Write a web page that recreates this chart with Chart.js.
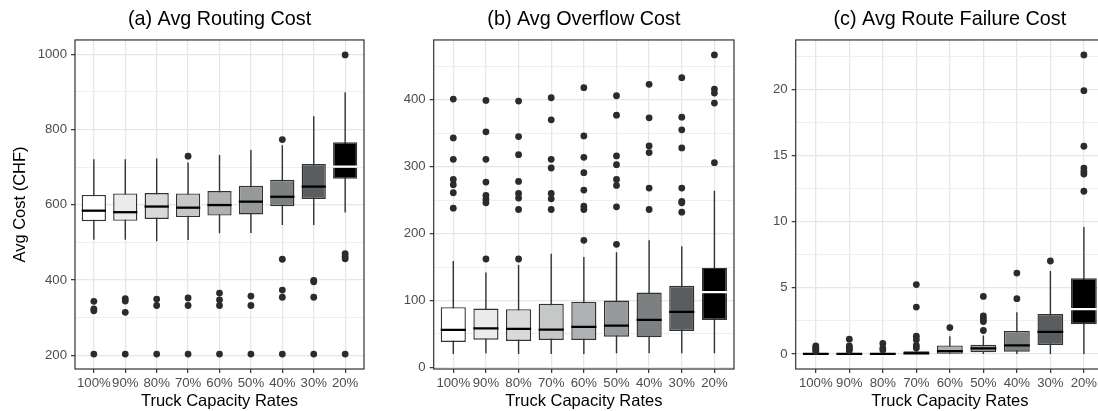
<!DOCTYPE html>
<html lang="en">
<head>
<meta charset="UTF-8" />
<title>Truck capacity boxplots</title>
<script src="https://cdn.jsdelivr.net/npm/chart.js"></script>
<style>
  body { margin: 0; width: 1098px; height: 411px; overflow: hidden; background: #fff; position: relative; }
  .panel { position: absolute; top: 0; height: 411px; }
</style>
</head>
<body>
<div class="panel" style="left:0;width:368px"><canvas id="routing" width="368" height="411"></canvas></div>
<div class="panel" style="left:368px;width:370px"><canvas id="overflow" width="370" height="411"></canvas></div>
<div class="panel" style="left:738px;width:370px"><canvas id="failure" width="370" height="411"></canvas></div>
<script>
  const capacity = ['100%', '90%', '80%', '70%', '60%', '50%', '40%', '30%', '20%'];

  // (a) routing cost
  const routingLow = [507, 507, 503, 506, 524, 525, 546, 546, 579];
  const routingQ1 = [556, 557, 562, 567, 571, 574, 596, 615, 669];
  const routingMed = [584, 580, 595, 592, 599, 608, 621, 648, 701];
  const routingQ3 = [626, 630, 631, 630, 636, 650, 666, 708, 766];
  const routingHigh = [721, 721, 723, 712, 732, 745, 758, 835, 899];
  const routingOutliers = [
    [343, 323, 318, 203],
    [350, 344, 314, 203],
    [349, 332, 203],
    [729, 352, 332, 203],
    [365, 347, 332, 203],
    [357, 332, 203],
    [773, 455, 373, 354, 203],
    [399, 395, 354, 203],
    [998, 470, 463, 456, 203],
  ];
  const routingTicks = [200, 400, 600, 800, 1000];
  const routingMinor = [300, 500, 700, 900];

  // (b) overflow cost
  const overflowLow = [20, 21, 20, 20, 20, 21, 21, 21, 21];
  const overflowQ1 = [38, 41.5, 39.5, 41, 41, 46, 45, 54.5, 71];
  const overflowMed = [56, 58.5, 57.5, 56.5, 60.5, 62.5, 71, 83, 112.5];
  const overflowQ3 = [90, 88, 87, 95, 98, 100, 112, 122, 149];
  const overflowHigh = [159, 142, 153, 170, 165, 172, 190, 181, 264];
  const overflowOutliers = [
    [401, 343, 311, 281, 273, 261, 238],
    [399, 352, 311, 277, 257, 251, 246, 162],
    [398, 345, 318, 278, 260, 253, 236, 162],
    [403, 370, 311, 298, 260, 252, 236],
    [418, 346, 314, 291, 265, 241, 236, 190],
    [406, 377, 316, 303, 281, 272, 240, 184],
    [423, 373, 331, 321, 268, 236],
    [433, 374, 355, 328, 268, 248, 246, 232],
    [467, 416, 410, 395, 306],
  ];
  const overflowTicks = [0, 100, 200, 300, 400];
  const overflowMinor = [50, 150, 250, 350, 450];

  // (c) route failure cost
  const failureLow = [0, 0, 0, 0, 0, 0, 0, 0, 0];
  const failureQ1 = [0, 0, 0, 0, 0.02, 0.13, 0.18, 0.68, 2.25];
  const failureMed = [0.01, 0.01, 0.02, 0.05, 0.22, 0.43, 0.65, 1.68, 3.4];
  const failureQ3 = [0.05, 0.06, 0.08, 0.22, 0.65, 0.7, 1.75, 3.03, 5.73];
  const failureHigh = [0.1, 0.1, 0.15, 0.4, 1.35, 1.4, 3.15, 6.27, 9.6];
  const failureOutliers = [
    [0.62, 0.5, 0.4, 0.3, 0.2],
    [1.12, 0.62, 0.5, 0.38, 0.25],
    [0.8, 0.45, 0.3],
    [5.25, 3.55, 1.35, 1.08, 0.65, 0.45],
    [2.0],
    [4.35, 2.88, 2.65, 2.45, 1.78],
    [6.12, 4.18],
    [7.03],
    [22.6, 19.9, 15.7, 14.05, 13.8, 13.6, 12.3],
  ];
  const failureTicks = [0, 5, 10, 15, 20];
  const failureMinor = [2.5, 7.5, 12.5, 17.5, 22.5];

  const FONT = "'Liberation Sans', Arial, Helvetica, sans-serif";
  const BOX_W = 0.77;
  const boxFills = ['#ffffff', '#ebebeb', '#d9d9d9', '#c6c7c7', '#aeb0b1', '#96999a', '#7d8081', '#5a5d5f', '#000000'];
  const medianColors = boxFills.map(c => (c === '#000000' ? '#ffffff' : '#000000'));

  // ggplot-like 5% expansion of the data range
  function expandRange(values) {
    const lo = Math.min(...values);
    const hi = Math.max(...values);
    const pad = (hi - lo) * 0.05;
    return [lo - pad, hi + pad];
  }

  const panelBorder = {
    id: 'panelBorder',
    afterDatasetsDraw(chart) {
      const { ctx, chartArea: a } = chart;
      ctx.save();
      ctx.strokeStyle = '#333333';
      ctx.lineWidth = 1.2;
      ctx.strokeRect(a.left, a.top, a.right - a.left, a.bottom - a.top);
      ctx.restore();
    },
  };

  function makePanel(id, p) {
    const [yMin, yMax] = expandRange([...p.low, ...p.high, ...p.outliers.flat()]);
    const isMajor = v => p.major.includes(v);

    const whiskers = [];
    const medians = [];
    capacity.forEach((_, i) => {
      const x = i + 1;
      whiskers.push({ x, y: p.low[i] }, { x, y: p.high[i] }, { x, y: null });
      medians.push({ x: x - BOX_W / 2, y: p.med[i] }, { x: x + BOX_W / 2, y: p.med[i] }, { x, y: null });
    });
    const outlierPoints = p.outliers.flatMap((vals, i) => vals.map(v => ({ x: i + 1, y: v })));

    new Chart(document.getElementById(id), {
      type: 'bar',
      data: {
        datasets: [
          {
            type: 'scatter',
            data: outlierPoints,
            order: 0,
            pointRadius: 3.4,
            pointBackgroundColor: '#2b2b2b',
            pointBorderWidth: 0,
          },
          {
            type: 'line',
            data: medians,
            order: 1,
            borderWidth: 2.3,
            pointRadius: 0,
            spanGaps: false,
            segment: { borderColor: ctx => medianColors[Math.floor(ctx.p0DataIndex / 3)] },
          },
          {
            type: 'bar',
            data: capacity.map((_, i) => ({ x: i + 1, y: [p.q1[i], p.q3[i]] })),
            order: 2,
            backgroundColor: boxFills,
            borderColor: '#333333',
            borderWidth: 1.4,
            borderSkipped: false,
            categoryPercentage: 1,
            barPercentage: BOX_W,
          },
          {
            type: 'line',
            data: whiskers,
            order: 3,
            borderColor: '#333333',
            borderWidth: 1.4,
            pointRadius: 0,
            spanGaps: false,
          },
        ],
      },
      options: {
        responsive: false,
        animation: false,
        events: [],
        layout: { padding: { left: 0, right: p.padRight, top: 0, bottom: 0 } },
        plugins: {
          legend: { display: false },
          tooltip: { enabled: false },
          title: {
            display: true,
            text: p.title,
            fullSize: false,
            color: '#000000',
            font: { family: FONT, size: 19.8, weight: 'normal', lineHeight: 1.2 },
            padding: { top: 8, bottom: 8.2 },
          },
        },
        scales: {
          x: {
            type: 'linear',
            min: 0.4,
            max: 9.6,
            offset: false,
            afterBuildTicks: s => { s.ticks = capacity.map((_, i) => ({ value: i + 1 })); },
            afterFit: s => { s.height = 42; },
            ticks: {
              autoSkip: false,
              maxRotation: 0,
              minRotation: 0,
              padding: 2,
              color: '#4d4d4d',
              font: { family: FONT, size: 13.2 },
              callback: v => capacity[v - 1],
            },
            grid: { color: '#e6e6e6', lineWidth: 1.3, offset: false, tickLength: 4, tickColor: '#333333', tickWidth: 1.2 },
            border: { display: false },
            title: {
              display: true,
              text: 'Truck Capacity Rates',
              color: '#000000',
              font: { family: FONT, size: 16.5, lineHeight: 1.1 },
              padding: 0,
            },
          },
          y: {
            min: yMin,
            max: yMax,
            bounds: 'data',
            afterBuildTicks: s => {
              s.ticks = [...p.major, ...p.minor].sort((a, b) => a - b).map(v => ({ value: v }));
            },
            afterFit: s => { s.width = p.axisWidth; },
            ticks: {
              padding: 4,
              color: '#4d4d4d',
              font: { family: FONT, size: 13.2 },
              callback: v => (isMajor(v) ? String(v) : ''),
            },
            grid: {
              color: ctx => (ctx.tick && isMajor(ctx.tick.value) ? '#e6e6e6' : '#ededed'),
              lineWidth: ctx => (ctx.tick && isMajor(ctx.tick.value) ? 1.3 : 0.9),
              tickLength: 4,
              tickWidth: 1.2,
              tickColor: ctx => (ctx.tick && isMajor(ctx.tick.value) ? '#333333' : 'rgba(0,0,0,0)'),
            },
            border: { display: false },
            title: {
              display: !!p.yTitle,
              text: p.yTitle || '',
              color: '#000000',
              font: { family: FONT, size: 16.5, lineHeight: 1.1 },
              padding: { top: 11, bottom: 0 },
            },
          },
        },
      },
      plugins: [panelBorder],
    });
  }

  makePanel('routing', {
    title: '(a) Avg Routing Cost', yTitle: 'Avg Cost (CHF)',
    low: routingLow, q1: routingQ1, med: routingMed, q3: routingQ3, high: routingHigh,
    outliers: routingOutliers, major: routingTicks, minor: routingMinor,
    axisWidth: 75, padRight: 2.5,
  });
  makePanel('overflow', {
    title: '(b) Avg Overflow Cost',
    low: overflowLow, q1: overflowQ1, med: overflowMed, q3: overflowQ3, high: overflowHigh,
    outliers: overflowOutliers, major: overflowTicks, minor: overflowMinor,
    axisWidth: 65.7, padRight: 2.7,
  });
  makePanel('failure', {
    title: '(c) Avg Route Failure Cost',
    low: failureLow, q1: failureQ1, med: failureMed, q3: failureQ3, high: failureHigh,
    outliers: failureOutliers, major: failureTicks, minor: failureMinor,
    axisWidth: 57.7, padRight: 3,
  });
</script>
</body>
</html>
